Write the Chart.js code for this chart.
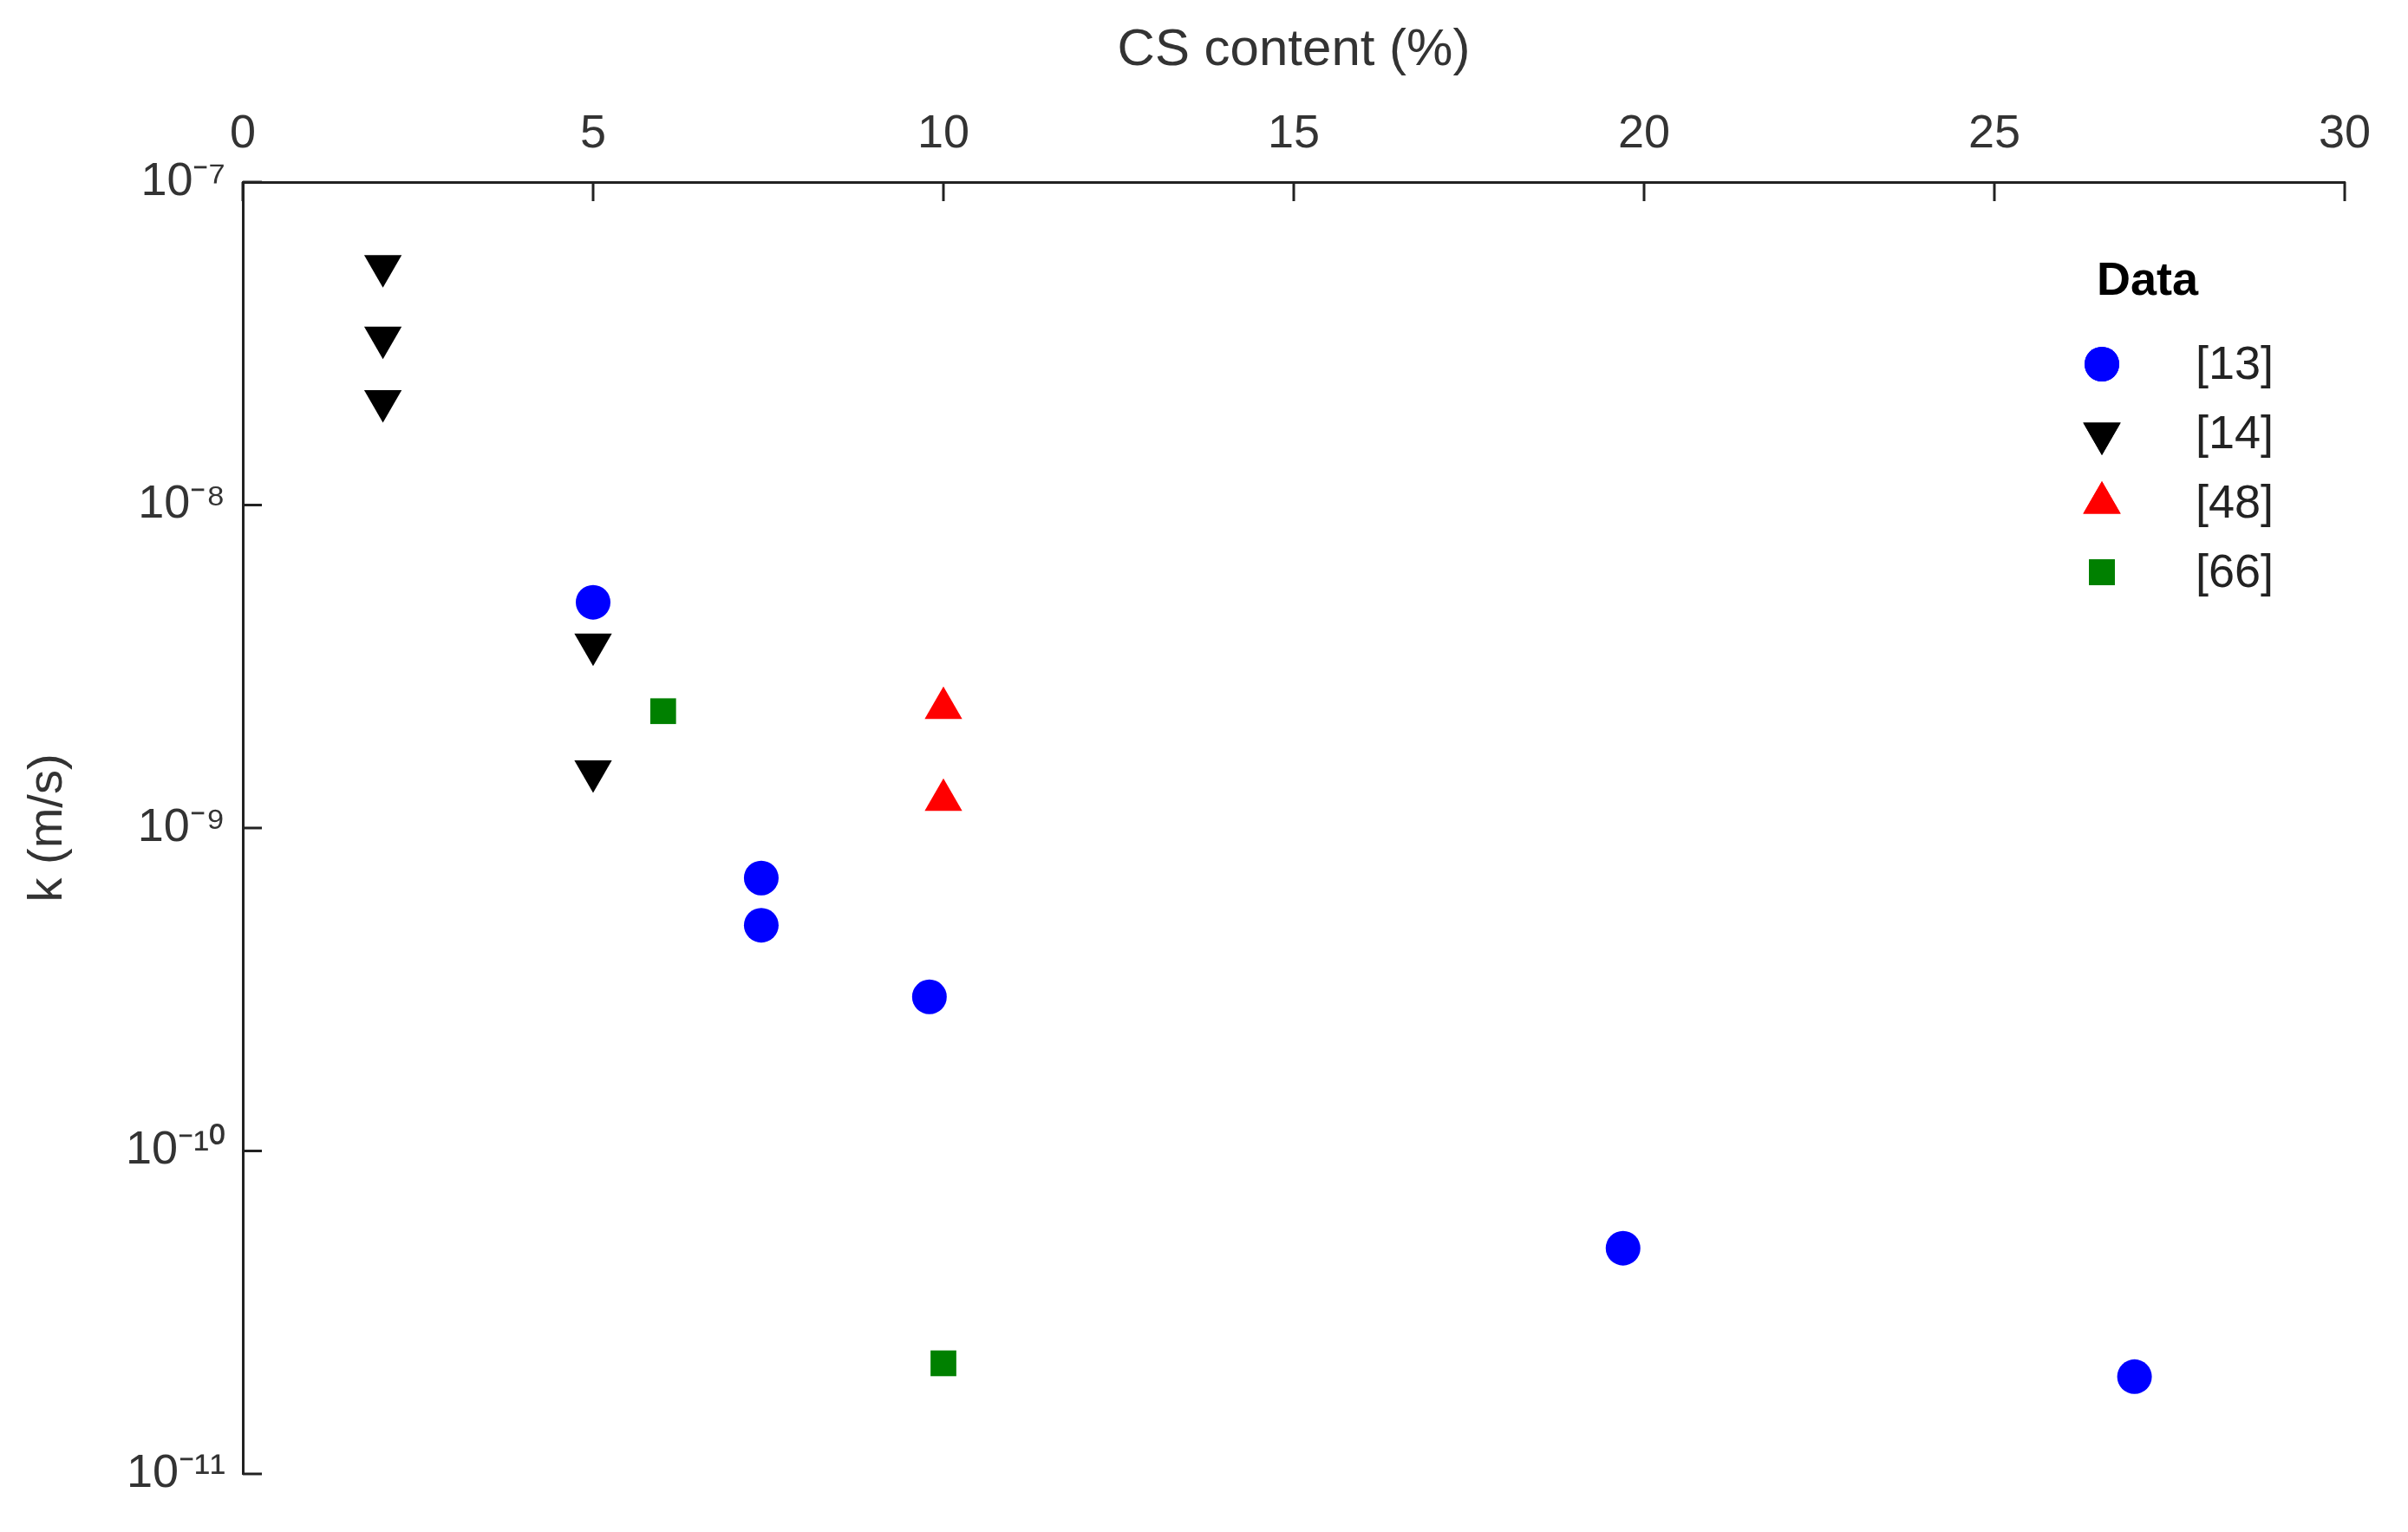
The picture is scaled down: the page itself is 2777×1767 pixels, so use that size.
<!DOCTYPE html>
<html>
<head>
<meta charset="utf-8">
<script src="https://cdn.jsdelivr.net/npm/chart.js@4"></script>
<style>
  html, body { margin: 0; padding: 0; background: #fff; }
  #wrap { width: 2777px; height: 1767px; }
</style>
</head>
<body>
<div id="wrap"><canvas id="kChart"></canvas></div>
<script>
// Data
const ref13X = [5, 7.4, 7.4, 9.8, 19.7, 27];
const ref13Y = [5e-9, 7e-10, 5e-10, 3e-10, 5e-11, 2e-11];
const ref14X = [2, 2, 2, 5, 5];
const ref14Y = [5.5e-8, 3.3e-8, 2.1e-8, 3.7e-9, 1.5e-9];
const ref48X = [10, 10];
const ref48Y = [2.35e-9, 1.22e-9];
const ref66X = [6, 10];
const ref66Y = [2.3e-9, 2.2e-11];
const xTicks = [0, 5, 10, 15, 20, 25, 30];
const yDecades = [1e-11, 1e-10, 1e-9, 1e-8, 1e-7];
const yLabels = ['10⁻¹¹', '10⁻¹⁰', '10⁻⁹', '10⁻⁸', '10⁻⁷'];

const toPts = (xs, ys) => xs.map((x, i) => ({ x: x, y: ys[i] }));
const FONT = 'Liberation Sans';

const series = [
  { label: '[13]', data: toPts(ref13X, ref13Y), color: 'rgb(0,0,255)', style: 'circle', radius: 20, rotation: 0 },
  { label: '[14]', data: toPts(ref14X, ref14Y), color: 'rgb(0,0,0)', style: 'triangle', radius: 25, rotation: 180 },
  { label: '[48]', data: toPts(ref48X, ref48Y), color: 'rgb(255,0,0)', style: 'triangle', radius: 25, rotation: 0 },
  { label: '[66]', data: toPts(ref66X, ref66Y), color: 'rgb(0,128,0)', style: 'rect', radius: 21, rotation: 0 }
];

// inward tick marks + legend
const decorPlugin = {
  id: 'decor',
  afterDraw(chart) {
    const ctx = chart.ctx;
    const xs = chart.scales.x, ys = chart.scales.y;
    const area = chart.chartArea;
    ctx.save();
    ctx.strokeStyle = '#222';
    ctx.lineWidth = 3;
    xTicks.forEach(v => {
      const px = xs.getPixelForValue(v);
      ctx.beginPath(); ctx.moveTo(px, area.top); ctx.lineTo(px, area.top + 22); ctx.stroke();
    });
    yDecades.forEach(v => {
      const py = ys.getPixelForValue(v);
      ctx.beginPath(); ctx.moveTo(area.left, py); ctx.lineTo(area.left + 22, py); ctx.stroke();
    });
    // legend
    ctx.fillStyle = '#000';
    ctx.font = 'bold 54px ' + FONT;
    ctx.textBaseline = 'middle';
    ctx.fillText('Data', 2418, 325);
    ctx.font = '54px ' + FONT;
    series.forEach((s, i) => {
      const y = 420 + i * 80;
      ctx.fillStyle = s.color;
      Chart.helpers.drawPoint(ctx, { pointStyle: s.style, radius: s.radius, rotation: s.rotation }, 2424, y);
      ctx.fill();
      ctx.fillStyle = '#222';
      ctx.fillText(s.label, 2532, y + 2);
    });
    ctx.restore();
  }
};

new Chart(document.getElementById('kChart').getContext('2d'), {
  type: 'scatter',
  data: {
    datasets: series.map(s => ({
      label: s.label,
      data: s.data,
      backgroundColor: s.color,
      borderColor: s.color,
      borderWidth: 0,
      pointStyle: s.style,
      pointRadius: s.radius,
      pointHoverRadius: s.radius,
      rotation: s.rotation
    }))
  },
  options: {
    responsive: true,
    maintainAspectRatio: false,
    animation: false,
    layout: { padding: { left: 22, right: 73, bottom: 67, top: 22 } },
    plugins: { legend: { display: false }, tooltip: { enabled: false } },
    scales: {
      x: {
        type: 'linear',
        position: 'top',
        min: 0, max: 30,
        afterBuildTicks: axis => { axis.ticks = xTicks.map(v => ({ value: v })); },
        afterFit: axis => { axis.height = 188; },
        grid: { display: false },
        border: { display: true, color: '#222', width: 3 },
        ticks: { color: '#333', font: { family: FONT, size: 54 }, padding: 14 },
        title: { display: true, text: 'CS content (%)', color: '#333', font: { family: FONT, size: 60 }, padding: { top: 0, bottom: 10 } }
      },
      y: {
        type: 'logarithmic',
        min: 1e-11, max: 1e-7,
        afterBuildTicks: axis => { axis.ticks = yDecades.map(v => ({ value: v })); },
        afterFit: axis => { axis.width = 258; },
        grid: { display: false },
        border: { display: true, color: '#222', width: 3 },
        ticks: {
          color: '#333', font: { family: FONT, size: 54 }, padding: 12,
          callback: v => { const i = yDecades.findIndex(d => Math.abs(d - v) / d < 1e-6); return i >= 0 ? yLabels[i] : ''; }
        },
        title: { display: true, text: 'k (m/s)', color: '#333', font: { family: FONT, size: 56 }, padding: { top: 0, bottom: 4 } }
      }
    }
  },
  plugins: [decorPlugin]
});
</script>
</body>
</html>
